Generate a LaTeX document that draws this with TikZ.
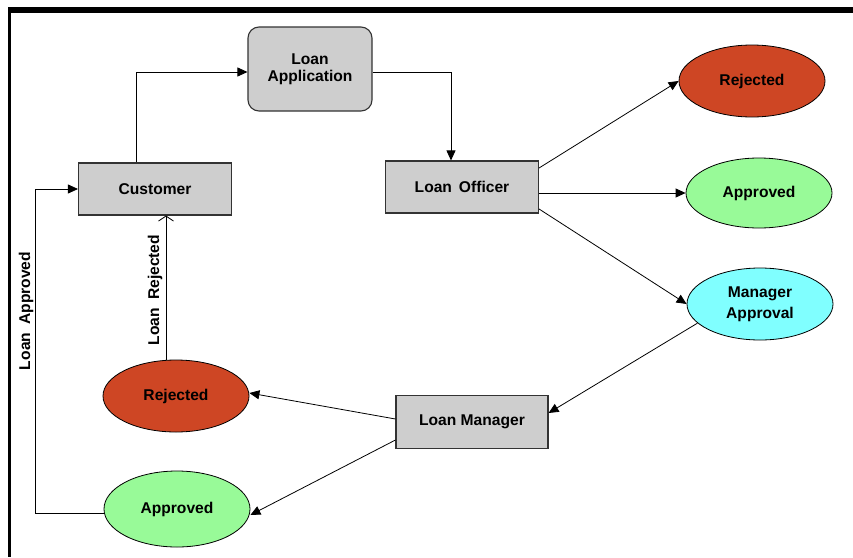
\documentclass[tikz,border=0pt]{standalone}
\usepackage{fontspec}
\setmainfont{Liberation Sans}
\usetikzlibrary{shapes.geometric,arrows.meta}
\definecolor{boxgray}{RGB}{206,206,206}
\definecolor{rejred}{RGB}{206,70,36}
\definecolor{appgreen}{RGB}{152,250,152}
\definecolor{mgrcyan}{RGB}{128,255,255}
\tikzset{
  txt/.style={font=\fontsize{15.6}{18}\selectfont\bfseries, text=black},
  procbox/.style={txt, draw=black!80, line width=1.1pt, fill=boxgray, minimum width=153pt, minimum height=52pt, inner sep=0pt},
  roundbox/.style={procbox, rounded corners=11pt, minimum width=124pt, minimum height=84pt, align=center},
  oval/.style={txt, ellipse, draw=black, line width=0.8pt, minimum width=146pt, minimum height=72pt, inner sep=0pt, align=center},
  arr/.style={line width=0.8pt, -{Triangle[length=10pt,width=9pt]}},
  openarr/.style={line width=0.8pt, -{Straight Barb[length=5pt,width=15pt]}},
  lbl/.style={txt, rotate=90}
}
\begin{document}
\begin{tikzpicture}[x=1pt,y=-1pt]
\useasboundingbox (0,0) rectangle (853,557);
% frame
\draw[line width=5.5pt] (8,10) -- (853,10);
\draw[line width=3pt] (9.5,8) -- (9.5,557);
% nodes
\node[roundbox] (la) at (310,69) {Loan\\[-1pt]Application};
\node[procbox] (cust) at (155,189) {Customer};
\node[procbox] (lo) at (462,187) {Loan\hspace{7pt}Officer\hspace{6pt}};
\node[procbox, minimum width=152pt, minimum height=53pt] (lm) at (472,422) {Loan Manager};
\node[oval, fill=rejred] (rejA) at (752,81) {Rejected};
\node[oval, fill=appgreen, minimum height=70pt] (appA) at (759,193) {Approved};
\node[oval, fill=mgrcyan] (ma) at (760,304) {Manager\\[3pt]Approval};
\node[oval, fill=rejred] (rejB) at (176,396) {Rejected};
\node[oval, fill=appgreen, minimum height=76pt] (appB) at (177,509) {Approved};
% connectors
\draw[arr] ([xshift=-19pt]cust.north) |- ([yshift=-3pt]la.west);
\draw[arr] ([yshift=-3pt]la.east) -| ([xshift=-11pt]lo.north);
\draw[arr] ([yshift=19pt]lo.east) -- (rejA.west);
\draw[arr] (lo.east |- appA.west) -- (appA.west);
\draw[arr] ([yshift=-22pt]lo.east) -- (ma.west);
\draw[arr] (ma.197) -- ([yshift=9pt]lm.east);
\draw[arr] ([yshift=3pt]lm.west) -- ([yshift=3pt]rejB.east);
\draw[arr] ([yshift=-18pt]lm.west) -- ([yshift=-6pt]appB.east);
\coordinate (lp) at (35,300);
\draw[arr] ([yshift=-4pt]appB.west) -| (lp |- cust.west) -- (cust.west);
\draw[openarr] ([xshift=-10pt]rejB.north) -- ([xshift=-10pt]rejB.north |- cust.south);
% labels
\node[lbl] (lblA) at (26,311) {Loan\hspace{8pt}Approved};
\node[lbl] (lblR) at (155,290) {Loan\hspace{8pt}Rejected};
\end{tikzpicture}
\end{document}
